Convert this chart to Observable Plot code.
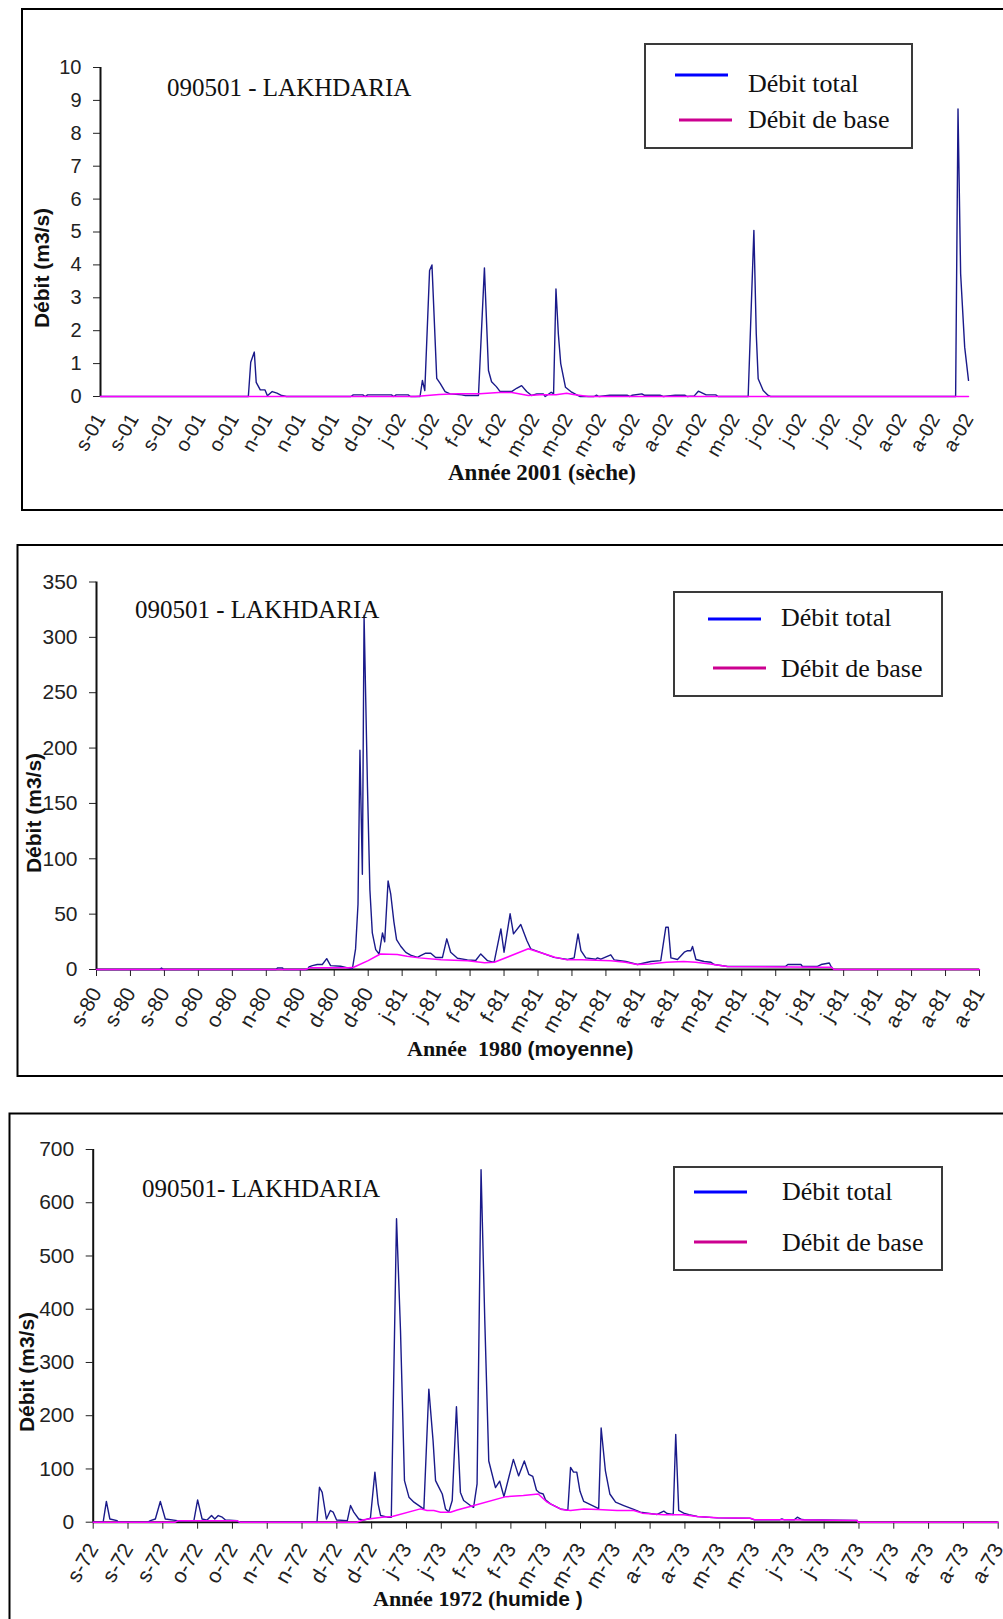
<!DOCTYPE html>
<html><head><meta charset="utf-8">
<script src="https://cdn.jsdelivr.net/npm/d3@7"></script>
<script src="https://cdn.jsdelivr.net/npm/@observablehq/plot@0.6"></script>
<style>
body{margin:0;background:#fff;overflow:hidden}
#root{position:relative;width:1003px;height:1619px;overflow:hidden;background:#fff}
#root svg.plotpanel{position:absolute;left:0}
</style></head><body><div id="root"></div>
<script>
// ---------- tick labels (one every 14 days, from 1 September) ----------
const labels2001 = ["s-01","s-01","s-01","o-01","o-01","n-01","n-01","d-01","d-01","j-02","j-02","f-02","f-02","m-02","m-02","m-02","a-02","a-02","m-02","m-02","j-02","j-02","j-02","j-02","a-02","a-02","a-02"];
const labels1980 = ["s-80","s-80","s-80","o-80","o-80","n-80","n-80","d-80","d-80","j-81","j-81","f-81","f-81","m-81","m-81","m-81","a-81","a-81","m-81","m-81","j-81","j-81","j-81","j-81","a-81","a-81","a-81"];
const labels1972 = ["s-72","s-72","s-72","o-72","o-72","n-72","n-72","d-72","d-72","j-73","j-73","f-73","f-73","m-73","m-73","m-73","a-73","a-73","m-73","m-73","j-73","j-73","j-73","j-73","a-73","a-73","a-73"];

// ---------- 2001 (dry year) : [day since 1 Sept, m3/s] ----------
const total2001 = [[0,0],[62,0],[63,1.04],[64.5,1.35],[65.3,0.43],[67,0.2],[69,0.2],[70,0.02],[72,0.15],[74,0.1],[76,0.03],[78,0],
[105,0],[106,0.05],[110,0.05],[111,0],[112,0.05],[122,0.05],[123,0],[124,0.05],[129,0.05],[130,0],
[134,0],[135,0.49],[136,0.18],[138,3.83],[139,4.0],[141,0.55],[142.5,0.39],[144.5,0.15],[146.6,0.08],[151.5,0.05],[153,0.03],[158.5,0.03],
[161,3.91],[162.7,0.79],[164,0.45],[166,0.3],[167.6,0.15],[172.4,0.15],[174.5,0.25],[176.6,0.33],[178.7,0.15],[180.8,0.03],[183,0.08],[185.7,0.08],[186.5,0],[187.7,0.06],[189,0.13],[190,0.08],
[191,3.27],[192,1.9],[193,1.0],[195,0.28],[197.6,0.13],[199.7,0.05],[201,0],[207,0],[208,0.04],[209,0],[213.6,0.04],[220.8,0.04],[222,0],[223,0.04],[227,0.08],[228,0.04],[234.6,0.04],[236,0],
[241,0.04],[245,0.04],[246,0],[249,0.02],[250.7,0.16],[254,0.05],[258,0.05],[259,0],[271.6,0],[274,5.05],[275,1.9],[275.8,0.54],[277.9,0.18],[280,0.03],[281,0],
[358.6,0],[359.6,8.74],[360.7,3.73],[362.4,1.5],[364,0.49]];
const base2001 = [[0,0],[132,0],[142,0.06],[150,0.08],[159,0.08],[167,0.12],[172.5,0.12],[179.4,0.03],[184.3,0.05],[191,0.05],[195.5,0.1],[198.3,0.06],[204.6,0],[364,0]];

// ---------- 1980 (average year) ----------
const total1980 = [[0,0],[26,0],[26.8,1.3],[27.5,0],[74,0],[74.7,1.5],[76.7,1.5],[77,0],[87,0],[87.6,2.3],[89,3.5],[91,4.5],[93.1,4.5],[94.9,9.8],[96.5,3.5],[100.6,3],[104.5,1],[105.5,0.7],
[106.8,18.6],[107.8,59],[108.6,198],[109.6,86],[110.3,320],[111.7,165],[112.7,72],[113.7,33],[115.1,18],[116.5,14],[117.9,33],[118.8,25],[120.2,80],[121.3,68],[122.6,43],[123.7,27],[125.4,21],[127.5,15.5],[129.5,13],[132.3,11],
[133.6,12.6],[135.7,14.7],[137.8,14.7],[139.8,10.8],[142.6,10.8],[144.4,27.7],[146,15.6],[148.8,10.2],[152.9,8.7],[156.3,8.1],[158.4,14.1],[161.2,8],[163.9,6.5],
[166.7,36.7],[168,15.6],[170.5,50.3],[171.9,32.2],[174.9,40.6],[177.4,26.2],[179,18.7],[188.6,11],[194.2,9],[196.9,10.5],[198.5,32.2],[199.7,17],[201.7,10.5],[205.8,9.3],[206.5,10.5],[207.9,9.3],
[212,13.3],[213.4,8.7],[218.2,7.2],[223,4.5],[228.5,7.2],[232.6,8],[234.7,38.2],[235.7,38.2],[236.8,10.5],[239.5,9],[242.3,15.6],[243.7,17],[245,17],[245.7,20.8],[247.1,9],[250.5,7.2],[253.3,6.5],[254.6,4.5],
[260.2,2.7],[284,2.7],[285,4.5],[290.4,4.5],[291,2.7],[297,2.7],[298.7,4.5],[302.1,5.9],[302.8,2.7],[303.5,1]];
const base1980 = [[0,0],[86,0],[88,1.5],[104,1.5],[106,2],[112,8],[117,14],[124,13.5],[128,12],[133,10.5],[142,8.7],[153,8],[160,6],[164,6.5],[178,18.7],[189,11],[194,8.7],[200,8.7],[212,8],[218,6.5],[223,4.5],[228,5],[235,6.5],[242,7.2],[247,6.5],[253,5],[260,2.7],[300,2],[303,2],[304,0],[364,0]];

// ---------- 1972 (wet year) ----------
const total1972 = [[0,0],[4,0],[5.3,39],[6.7,6],[9.6,3],[10,0],[22,0],[23,3],[25,6],[27,39],[29,6],[33.8,3],[34.5,2],[40.5,3],[42,42],[43.8,6],[45.8,4],[47.6,12.5],[48.9,6],[50.3,12.5],[51.9,9.4],[53.2,4],[57.9,3],[58.5,0],
[90,0],[91,65.7],[92.1,56],[93.8,6],[95.4,22],[96.5,19],[97.9,4],[102.2,3],[103.5,31.3],[104.8,19],[106.8,6],[108.8,4],[111.5,7.5],[113.3,94],[114.6,34.5],[115.6,12.5],[118.3,9.4],[119.9,9.4],
[122,570],[123.6,360],[125.2,78],[127,47],[129,37.6],[132.3,27],[133,25],[135,250],[136.7,153],[137.7,78],[139,66],[140.4,53],[141.7,25],[143,19],[144.4,40.7],[146.1,217],[147.7,56],[149,40.7],[151.7,31.3],[153,28],[154.4,72],
[156,662],[157.5,379],[159.1,115],[161.8,65],[163.5,77],[165.2,48],[169,118],[171.1,87],[173.4,115],[175.2,90],[176.8,86],[178.3,60],[179.6,55],[181,53],[181.9,42],[183.9,34.5],[187.9,25],[190.9,22.5],
[192,103],[193.2,94],[194.5,94],[195.8,58],[197.3,39],[200,33],[202.7,27],[203.3,25],[204.3,177],[206,97],[207.8,53],[210.1,37.6],[213.4,31.3],[217.4,24],[220.1,19],[226.8,14.5],[229.5,20.7],[230.8,16.3],[233.3,14.5],
[234.3,165],[235.5,22],[237.5,17],[239.6,14],[243,10.7],[251,8.2],[264,7.5],[266,4.5],[276,4.5],[277,6.3],[278,4.5],[282,4.5],[283.2,9.4],[285,5],[286,4.5],[307.3,3.2]];
const base1972 = [[0,0],[33,0],[34,2.5],[58,2.5],[59,0],[106,0],[108.8,4.5],[111.5,6.3],[116.2,9.4],[120.3,10.7],[131.6,25],[134.3,22],[137,22],[139.7,18.8],[143.7,18.8],[146.4,23],[153.1,31.3],[166,48],[173,50],[179,53],[182.6,37.6],[185.3,31],[188.3,24],[192,22],[197.3,25],[203,24],[210.7,22],[217.4,22],[220.8,17],[229.5,14],[237.5,14],[242.9,10.7],[251,8.2],[264.4,7.5],[266,4.5],[277.8,4.5],[307.3,3.2],[307.6,0],[364,0]];

const yTicks2001 = d3.range(0, 11, 1);
const yTicks1980 = d3.range(0, 351, 50);
const yTicks1972 = d3.range(0, 701, 100);

const panels = [
  {top:0, height:520, mt:67, mb:124, ml:100, mr:35, ymax:10, yticks:yTicks2001, labels:labels2001, total:total2001, base:base2001, xTickSize:0, xPad:19, fs:20},
  {top:520, height:560, mt:61.5, mb:111, ml:96, mr:24, ymax:350, yticks:yTicks1980, labels:labels1980, total:total1980, base:base1980, xTickSize:7, xPad:13, fs:21},
  {top:1080, height:539, mt:69, mb:97.3, ml:92.7, mr:5.3, ymax:700, yticks:yTicks1972, labels:labels1972, total:total1972, base:base1972, xTickSize:7, xPad:16, fs:21}
];

const root = document.getElementById("root");
for (const p of panels) {
  const tickDays = p.labels.map((_, i) => i * 14);
  const chart = Plot.plot({
    width: 1003, height: p.height,
    marginTop: p.mt, marginBottom: p.mb, marginLeft: p.ml, marginRight: p.mr,
    style: {fontFamily: "'Liberation Sans', Arial, sans-serif", fontSize: p.fs + "px", color: "#222", background: "transparent", overflow: "visible"},
    x: {domain: [0, 364], ticks: tickDays, tickFormat: d => p.labels[Math.round(d / 14)], tickRotate: -60, tickSize: p.xTickSize, tickPadding: p.xPad, label: null},
    y: {domain: [0, p.ymax], ticks: p.yticks, tickSize: 7, tickPadding: 12, label: null},
    marks: [
      p.xTickSize ? Plot.ruleY([0], {stroke: "#111", strokeWidth: 2}) : null,
      Plot.ruleX([0], {stroke: "#111", strokeWidth: 2}),
      Plot.line(p.total, {x: d => d[0], y: d => d[1], stroke: "#1a1a8a", strokeWidth: 1.4}),
      Plot.line(p.base, {x: d => d[0], y: d => d[1], stroke: "#ff00ff", strokeWidth: 1.5})
    ]
  });
  chart.classList.add("plotpanel");
  chart.style.position = "absolute";
  chart.style.top = p.top + "px";
  chart.style.left = "0px";
  root.appendChild(chart);
}

// ---------- overlay: frames, station names, legends, axis titles ----------
const ov = d3.select(root).append("svg")
  .attr("width", 1003).attr("height", 1619)
  .style("position", "absolute").style("left", 0).style("top", 0).style("pointer-events", "none");

const frames = [[22, 9, 1100, 501], [17.5, 545, 1100, 531], [9.5, 1113.5, 1100, 600]];
ov.selectAll("rect.frame").data(frames).join("rect").attr("class", "frame")
  .attr("x", d => d[0]).attr("y", d => d[1]).attr("width", d => d[2]).attr("height", d => d[3])
  .attr("fill", "none").attr("stroke", "#000").attr("stroke-width", 2);

const serif = "'Liberation Serif', 'Times New Roman', serif";
const sans = "'Liberation Sans', Arial, sans-serif";

const stations = [["090501 - LAKHDARIA", 167, 96], ["090501 - LAKHDARIA", 135, 618], ["090501- LAKHDARIA", 142, 1197]];
ov.selectAll("text.station").data(stations).join("text").attr("class", "station")
  .attr("x", d => d[1]).attr("y", d => d[2]).attr("font-family", serif).attr("font-size", 25).attr("fill", "#111")
  .style("white-space", "pre").text(d => d[0]);

const legends = [
  {box:[645, 44, 267, 104], l1:[675, 728, 75], l2:[679, 732, 120], tx:748, t1:92, t2:128},
  {box:[674, 592, 268, 104], l1:[708, 761, 619], l2:[713, 766, 668], tx:781, t1:626, t2:677},
  {box:[674, 1167, 268, 103], l1:[694, 747, 1192], l2:[694, 747, 1242], tx:782, t1:1200, t2:1251}
];
for (const L of legends) {
  ov.append("rect").attr("x", L.box[0]).attr("y", L.box[1]).attr("width", L.box[2]).attr("height", L.box[3])
    .attr("fill", "#fff").attr("stroke", "#3a3a3a").attr("stroke-width", 2);
  ov.append("line").attr("x1", L.l1[0]).attr("x2", L.l1[1]).attr("y1", L.l1[2]).attr("y2", L.l1[2]).attr("stroke", "#0000ff").attr("stroke-width", 3);
  ov.append("line").attr("x1", L.l2[0]).attr("x2", L.l2[1]).attr("y1", L.l2[2]).attr("y2", L.l2[2]).attr("stroke", "#cc0090").attr("stroke-width", 3);
  ov.append("text").attr("x", L.tx).attr("y", L.t1).attr("font-family", serif).attr("font-size", 26).attr("fill", "#111").text("Débit total");
  ov.append("text").attr("x", L.tx).attr("y", L.t2).attr("font-family", serif).attr("font-size", 26).attr("fill", "#111").text("Débit de base");
}

const yTitles = [[49, 268], [41, 813], [34, 1372]];
ov.selectAll("text.ytitle").data(yTitles).join("text").attr("class", "ytitle")
  .attr("transform", d => `translate(${d[0]},${d[1]}) rotate(-90)`)
  .attr("text-anchor", "middle").attr("font-family", sans).attr("font-weight", "bold").attr("font-size", 21).attr("fill", "#111")
  .text("Débit (m3/s)");

function xTitle(x, y, parts) {
  const t = ov.append("text").attr("x", x).attr("y", y).attr("font-weight", "bold").attr("fill", "#111").style("white-space", "pre");
  for (const [s, fam, size] of parts) t.append("tspan").attr("font-family", fam).attr("font-size", size).text(s);
}
xTitle(448, 480, [["Année 2001 (sèche)", serif, 23]]);
xTitle(407, 1056, [["Année  1980 ", serif, 22], ["(moyenne)", sans, 21]]);
xTitle(373, 1606, [["Année 1972 (", serif, 22], ["humide )", sans, 21]]);
</script></body></html>
